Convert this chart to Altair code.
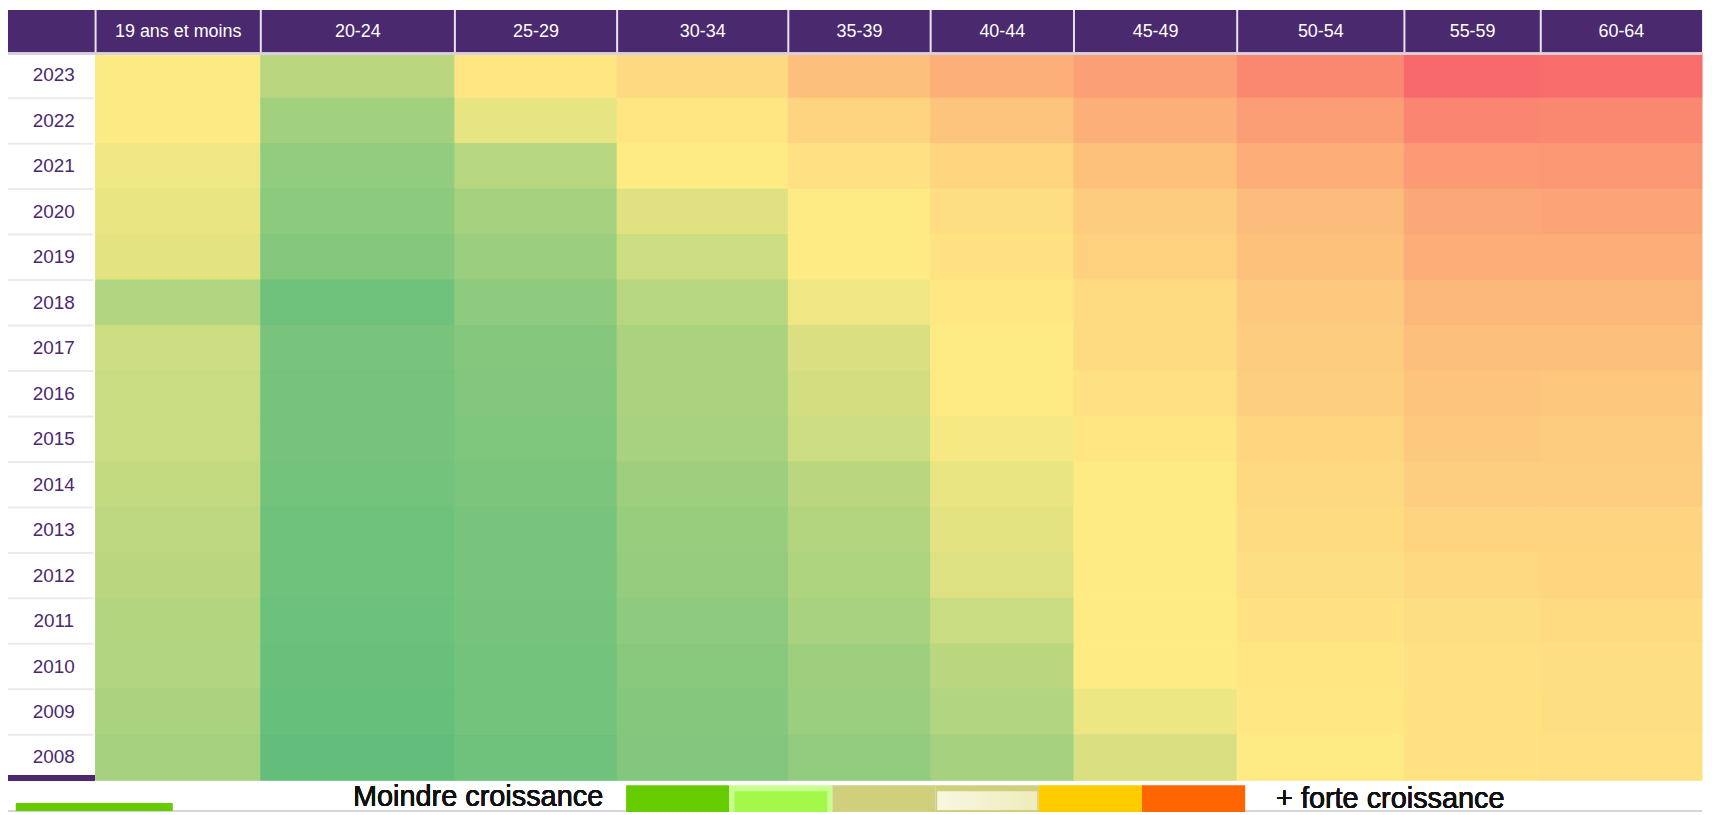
import altair as alt
import pandas as pd

# ---------------- data ----------------
YEARS = ["2023", "2022", "2021", "2020", "2019", "2018", "2017", "2016",
         "2015", "2014", "2013", "2012", "2011", "2010", "2009", "2008"]
AGES = ["19 ans et moins", "20-24", "25-29", "30-34", "35-39",
        "40-44", "45-49", "50-54", "55-59", "60-64"]

V_19 = [49, 49, 45, 43, 41, 25, 34, 33, 33, 31, 29, 28, 26, 25, 23, 21]
V_20 = [28, 20, 15, 13, 11, 4, 7, 6, 6, 5, 4, 4, 3, 2, 1, 0]
V_25 = [52, 42, 27, 21, 18, 14, 11, 10, 9, 8, 7, 7, 6, 5, 5, 4]
V_30 = [57, 52, 50, 40, 34, 27, 23, 23, 22, 19, 17, 16, 14, 12, 11, 10]
V_35 = [67, 59, 54, 50, 50, 45, 38, 36, 34, 28, 26, 24, 22, 19, 18, 15]
V_40 = [73, 65, 58, 55, 53, 51, 50, 50, 47, 43, 41, 39, 33, 28, 25, 21]
V_45 = [79, 73, 66, 62, 60, 56, 56, 54, 52, 50, 50, 50, 50, 50, 44, 38]
V_50 = [88, 80, 74, 68, 66, 63, 62, 61, 58, 57, 56, 55, 53, 52, 51, 50]
V_55 = [100, 89, 81, 76, 74, 70, 67, 65, 63, 61, 59, 57, 55, 54, 53, 53]
V_60 = [99, 88, 82, 77, 74, 70, 67, 64, 62, 61, 59, 58, 56, 55, 55, 54]
SERIES = [V_19, V_20, V_25, V_30, V_35, V_40, V_45, V_50, V_55, V_60]

LEGEND_KEYS = ["s1", "s2", "s3", "s4", "s5", "s6"]
LEGEND_COLORS = ["#66cc00", "#c8ff90", "#cfcf7c", "#cfcf7c", "#ffcc00", "#ff6600"]
LEGEND_LEFT = "Moindre croissance"
LEGEND_RIGHT = "+ forte croissance"

rows = []
for i, (age, vals) in enumerate(zip(AGES, SERIES)):
    for yr, v in zip(YEARS, vals):
        rows.append({"age": age, "col": i, "year": yr, "v": v})
df = pd.DataFrame(rows)
ages_df = pd.DataFrame({"age": AGES, "col": list(range(len(AGES)))})
years_df = pd.DataFrame({"year": YEARS})
leg_df = pd.DataFrame({"key": LEGEND_KEYS, "fillc": LEGEND_COLORS})

# ---------------- layout / styling ----------------
PURPLE = "#4b296e"
FONT = "Liberation Sans"
W, H = 1704, 806

# column edges of the table (uneven column widths), piecewise-linear position scale
COL_EDGES = [88, 254, 449, 612, 784, 927, 1071, 1235, 1403, 1540, 1702]
X_SCALE = alt.Scale(domain=list(range(len(COL_EDGES))), range=COL_EDGES, nice=False, zero=False)
Y_SCALE = alt.Scale(domain=YEARS, range=[43, 774], paddingInner=0, paddingOuter=0)
L_SCALE = alt.Scale(domain=LEGEND_KEYS, range=[621, 1243], paddingInner=0, paddingOuter=0)

CSCALE = dict(domain=[0, 50, 100], range=["#63be7b", "#ffeb84", "#f8696b"], interpolate="rgb")

heat = alt.Chart(df).transform_calculate(col1="datum.col + 1").mark_rect(strokeWidth=1).encode(
    x=alt.X("col:Q", scale=X_SCALE, axis=None),
    x2="col1:Q",
    y=alt.Y("year:N", scale=Y_SCALE, axis=None),
    color=alt.Color("v:Q", legend=None, scale=alt.Scale(**CSCALE)),
    stroke=alt.Stroke("v:Q", legend=None, scale=alt.Scale(**CSCALE)),
)

header_bg = alt.Chart(ages_df).mark_rect(color=PURPLE).encode(
    x=alt.value(0), x2=alt.value(1702), y=alt.value(0), y2=alt.value(43)
)
header_sep = alt.Chart(ages_df).mark_rule(color="#e9e3ef", strokeWidth=2).encode(
    x=alt.X("col:Q", scale=X_SCALE, axis=None),
    y=alt.value(0), y2=alt.value(43),
)
header_line = alt.Chart(ages_df).mark_rule(color="#d9d0de", strokeWidth=2).encode(
    x=alt.value(0), x2=alt.value(1702), y=alt.value(44)
)
header_txt = alt.Chart(ages_df).transform_calculate(mid="datum.col + 0.5").mark_text(
    color="white", fontSize=18, font=FONT, align="center", baseline="middle"
).encode(
    x=alt.X("mid:Q", scale=X_SCALE, axis=None),
    y=alt.value(22),
    text="age:N",
)

year_sep = alt.Chart(years_df).mark_rule(color="#ebebeb", strokeWidth=2).encode(
    y=alt.Y("year:N", scale=Y_SCALE, axis=None, bandPosition=1),
    x=alt.value(0), x2=alt.value(86),
)
year_txt = alt.Chart(years_df).mark_text(
    color=PURPLE, fontSize=19, font=FONT, align="center", baseline="middle"
).encode(
    x=alt.value(46),
    y=alt.Y("year:N", scale=Y_SCALE, axis=None),
    text="year:N",
)
year_bar = alt.Chart(years_df).mark_rect(color=PURPLE).encode(
    x=alt.value(0), x2=alt.value(87), y=alt.value(769), y2=alt.value(774)
)

swatch = alt.Chart(leg_df).mark_rect().encode(
    x=alt.X("key:N", scale=L_SCALE, axis=None),
    y=alt.value(779), y2=alt.value(806),
    color=alt.Color("fillc:N", scale=None, legend=None),
)
sw2_inner = alt.Chart(leg_df[leg_df.key == "s2"]).mark_bar(
    color="#a4f84a", width=alt.RelativeBandSize(0.9)
).encode(
    x=alt.X("key:N", scale=L_SCALE, axis=None),
    y=alt.value(785), y2=alt.value(806),
)
sw4_inner = alt.Chart(leg_df[leg_df.key == "s4"]).mark_bar(
    width=alt.RelativeBandSize(0.97),
    color=alt.Gradient(gradient="linear", x1=0, x2=1, y1=0, y2=0,
                       stops=[alt.GradientStop(offset=0, color="#f8f7e2"),
                              alt.GradientStop(offset=1, color="#eeecbb")]),
).encode(
    x=alt.X("key:N", scale=L_SCALE, axis=None),
    y=alt.value(785), y2=alt.value(804),
)
txt_left = alt.Chart(leg_df).mark_text(
    fontSize=29, font=FONT, color="#111111", align="right", baseline="alphabetic"
).encode(x=alt.value(598), y=alt.value(800), text=alt.value(LEGEND_LEFT))
txt_right = alt.Chart(leg_df).mark_text(
    fontSize=29, font=FONT, color="#111111", align="left", baseline="alphabetic"
).encode(x=alt.value(1274), y=alt.value(802), text=alt.value(LEGEND_RIGHT))
green_bar = alt.Chart(leg_df).mark_rect(color="#66cc00").encode(
    x=alt.value(8), x2=alt.value(165), y=alt.value(797), y2=alt.value(805)
)
bottom_line = alt.Chart(leg_df).mark_rule(color="#d6d6d6", strokeWidth=2).encode(
    x=alt.value(0), x2=alt.value(1702), y=alt.value(805)
)

chart = alt.layer(
    heat, header_bg, header_sep, header_line, header_txt,
    year_sep, year_txt, year_bar,
    bottom_line, swatch, sw2_inner, sw4_inner, txt_left, txt_right, green_bar,
).resolve_scale(
    x="independent", y="independent", color="independent"
).properties(
    width=W, height=H, padding=0,
    autosize=alt.AutoSizeParams(type="none"),
    background="white",
).configure_view(stroke=None)

chart.save("out.html", embed_options={"renderer": "svg", "actions": False})
